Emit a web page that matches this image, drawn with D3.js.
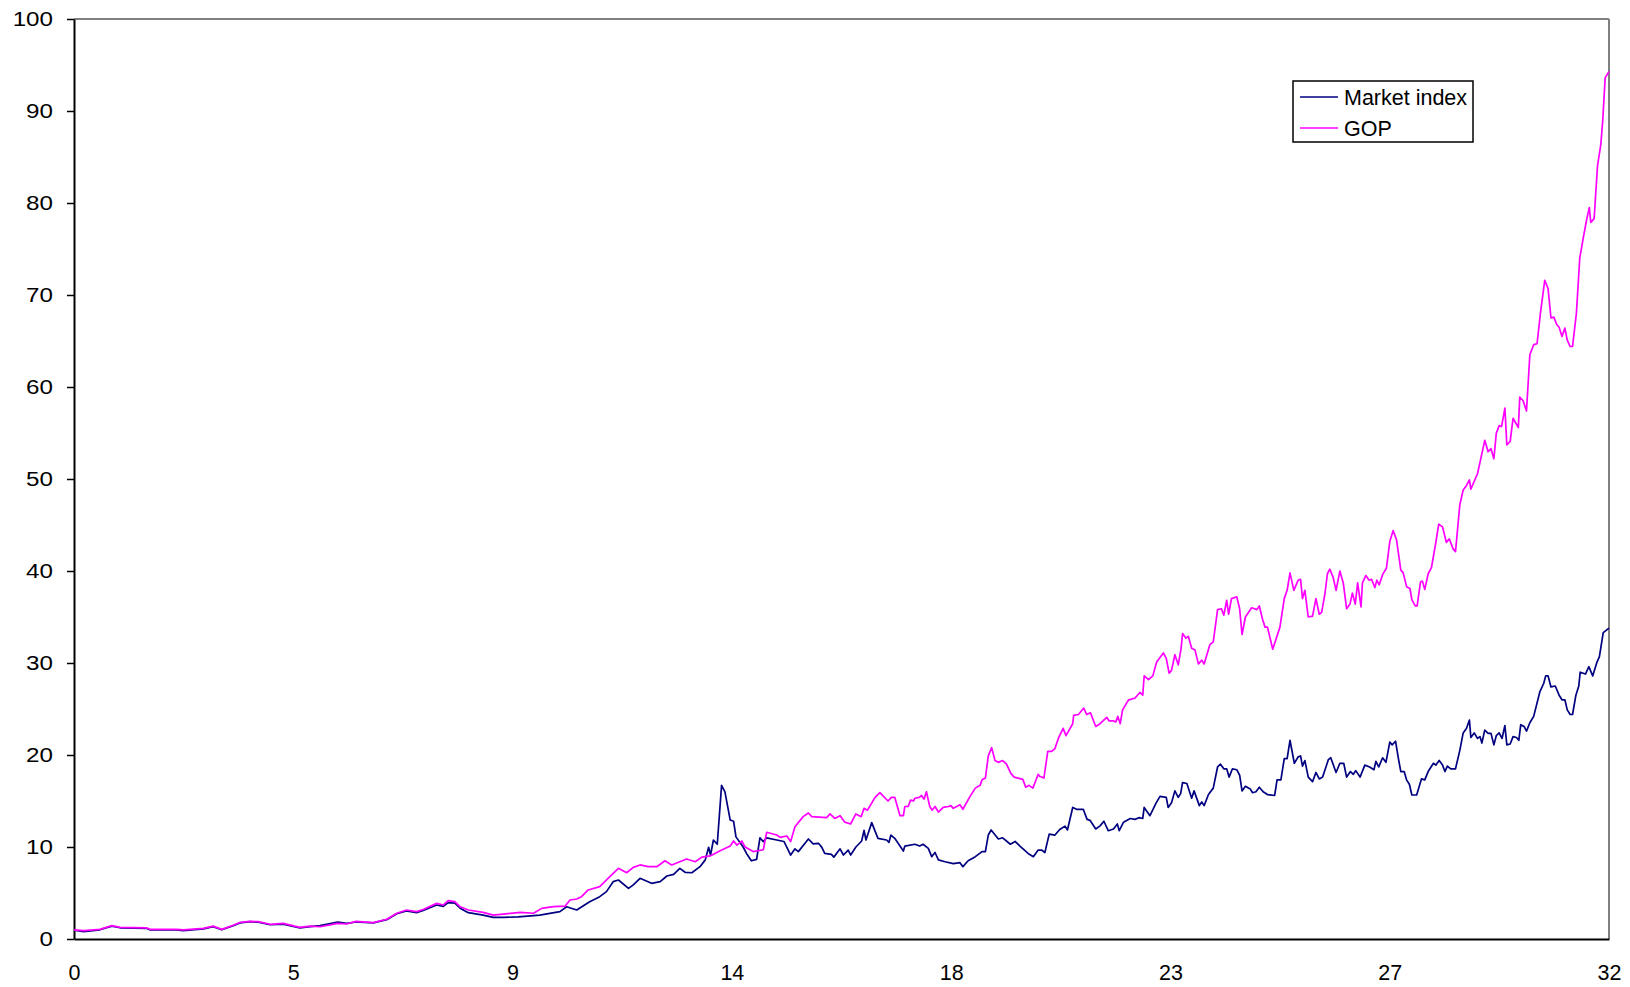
<!DOCTYPE html>
<html>
<head>
<meta charset="utf-8">
<script src="https://cdn.jsdelivr.net/npm/d3@7/dist/d3.min.js"></script>
<style>
  html, body { margin: 0; padding: 0; background: #fff; }
  svg { display: block; font-family: "Liberation Sans", Arial, Helvetica, sans-serif; }
</style>
</head>
<body>
<svg id="chart" width="1630" height="987"></svg>
<script>
// [years, value] pairs for each series
const marketIndex = [
  [0,0.95],[0.2,0.8],[0.54,1.0],[0.79,1.4],[0.96,1.22],[1.52,1.15],[1.58,1.0],[2.14,1.0],[2.28,0.92],[2.7,1.1],
  [2.9,1.35],[3.08,1.0],[3.32,1.45],[3.46,1.75],[3.67,1.88],[3.84,1.82],[4.09,1.55],[4.36,1.62],[4.71,1.2],[4.92,1.35],
  [5.13,1.45],[5.5,1.85],[5.68,1.7],[5.88,1.85],[6.24,1.75],[6.52,2.1],[6.73,2.75],[6.93,3.05],[7.14,2.85],[7.28,3.1],
  [7.56,3.7],[7.7,3.55],[7.8,3.95],[7.94,3.9],[8.05,3.35],[8.22,2.86],[8.53,2.6],[8.74,2.35],[8.95,2.35],[9.26,2.4],
  [9.71,2.6],[10.13,2.97],[10.27,3.51],[10.48,3.15],[10.75,4.05],[10.96,4.6],[11.1,5.15],[11.24,6.23],[11.35,6.41],[11.56,5.5],
  [11.66,5.88],[11.8,6.6],[12.04,6.05],[12.22,6.23],[12.36,6.85],[12.5,7.03],[12.63,7.68],[12.74,7.25],[12.88,7.2],[13.05,7.86],
  [13.16,8.6],[13.23,9.97],[13.27,9.13],[13.33,10.76],[13.41,10.3],[13.5,16.7],[13.57,16.0],[13.68,12.93],[13.75,12.8],[13.8,11.1],
  [13.95,10.0],[14.02,9.3],[14.12,8.5],[14.23,8.65],[14.3,11.0],[14.37,10.58],[14.44,11.0],[14.65,10.76],[14.8,10.6],[14.94,9.13],
  [15.03,9.8],[15.1,9.5],[15.31,10.87],[15.41,10.33],[15.52,10.4],[15.59,9.96],[15.65,9.3],[15.79,9.2],[15.84,8.9],[15.97,9.8],
  [16.04,9.13],[16.14,9.67],[16.19,9.13],[16.3,10.0],[16.42,10.65],[16.47,11.8],[16.51,10.76],[16.63,12.65],[16.76,10.94],[16.94,10.76],
  [16.99,10.5],[17.03,11.3],[17.11,10.94],[17.29,9.56],[17.32,10.1],[17.53,10.3],[17.63,10.1],[17.7,10.3],[17.81,9.85],[17.88,8.95],
  [17.95,9.4],[18.02,8.6],[18.16,8.4],[18.33,8.2],[18.47,8.3],[18.53,7.86],[18.64,8.5],[18.79,8.95],[18.93,9.5],[19.0,9.5],
  [19.06,11.3],[19.12,11.85],[19.27,10.87],[19.36,11.0],[19.52,10.3],[19.62,10.6],[19.72,10.1],[19.89,9.3],[20.0,8.95],[20.1,9.67],
  [20.17,9.67],[20.24,9.4],[20.33,11.4],[20.45,11.3],[20.55,11.9],[20.66,12.27],[20.71,11.85],[20.82,14.3],[20.9,14.1],[21.04,14.1],
  [21.12,13.0],[21.18,12.9],[21.3,11.96],[21.39,12.3],[21.47,12.8],[21.56,11.77],[21.67,11.96],[21.75,12.5],[21.79,11.77],[21.88,12.7],
  [22.02,13.1],[22.12,13.0],[22.21,13.2],[22.28,13.1],[22.31,14.3],[22.43,13.4],[22.56,14.8],[22.64,15.5],[22.77,15.4],[22.81,14.3],
  [22.88,14.8],[22.95,16.1],[23.02,15.4],[23.07,15.8],[23.11,17.0],[23.2,16.9],[23.3,15.3],[23.35,16.1],[23.46,14.5],[23.51,14.9],
  [23.56,14.5],[23.65,15.7],[23.75,16.4],[23.84,18.7],[23.9,19.0],[23.97,18.5],[24.03,18.5],[24.08,17.6],[24.15,18.5],[24.24,18.4],
  [24.3,17.8],[24.35,16.1],[24.42,16.6],[24.52,16.3],[24.57,15.9],[24.64,16.0],[24.71,16.5],[24.79,16.0],[24.88,15.7],[25.03,15.6],
  [25.08,17.3],[25.16,17.3],[25.23,19.6],[25.29,19.6],[25.35,21.6],[25.44,19.1],[25.52,19.8],[25.57,19.9],[25.61,18.8],[25.66,19.4],
  [25.73,17.6],[25.82,17.1],[25.89,18.1],[25.96,17.4],[26.03,17.6],[26.15,19.5],[26.2,19.7],[26.31,18.1],[26.39,19.1],[26.47,19.1],
  [26.53,17.6],[26.61,18.2],[26.67,17.9],[26.72,18.3],[26.81,17.6],[26.91,18.9],[27.01,18.7],[27.1,18.4],[27.14,19.3],[27.2,18.7],
  [27.28,19.7],[27.35,19.2],[27.43,21.4],[27.48,21.1],[27.55,21.5],[27.61,19.6],[27.66,18.2],[27.73,18.2],[27.78,17.3],[27.84,16.8],
  [27.89,15.65],[27.99,15.65],[28.09,17.4],[28.16,17.3],[28.23,18.2],[28.34,19.1],[28.39,18.9],[28.46,19.4],[28.53,18.9],[28.58,18.2],
  [28.63,18.8],[28.7,18.5],[28.8,18.5],[28.89,20.5],[28.96,22.4],[29.03,22.9],[29.09,23.8],[29.12,21.9],[29.19,22.4],[29.26,21.8],
  [29.31,22.0],[29.35,21.3],[29.41,22.7],[29.48,22.35],[29.54,22.35],[29.6,21.1],[29.65,22.1],[29.71,22.4],[29.77,21.8],[29.83,23.2],
  [29.87,21.1],[29.94,21.2],[30.0,22.0],[30.07,21.9],[30.12,21.6],[30.16,23.3],[30.23,23.1],[30.28,22.6],[30.35,23.5],[30.43,24.2],
  [30.56,26.9],[30.64,27.8],[30.68,28.6],[30.73,28.6],[30.79,27.4],[30.88,27.5],[30.96,26.5],[31.02,26.0],[31.08,26.0],[31.13,24.9],
  [31.19,24.4],[31.24,24.4],[31.31,26.5],[31.37,27.5],[31.4,29.0],[31.51,28.8],[31.58,29.6],[31.66,28.6],[31.75,30.1],[31.8,30.7],
  [31.88,33.3],[32.0,33.8]
];

const gop = [
  [0,1.0],[0.2,0.9],[0.54,1.05],[0.79,1.45],[0.96,1.26],[1.52,1.2],[1.58,1.05],[2.14,1.05],[2.28,1.0],[2.7,1.15],
  [2.9,1.4],[3.08,1.05],[3.32,1.5],[3.46,1.8],[3.67,1.92],[3.84,1.88],[4.09,1.6],[4.36,1.7],[4.71,1.26],[4.92,1.4],
  [5.13,1.33],[5.5,1.7],[5.68,1.63],[5.88,1.92],[6.24,1.78],[6.52,2.15],[6.73,2.8],[6.93,3.15],[7.14,2.97],[7.28,3.2],
  [7.56,3.87],[7.7,3.7],[7.8,4.17],[7.94,4.06],[8.05,3.5],[8.22,3.15],[8.53,2.9],[8.74,2.6],[8.95,2.7],[9.3,2.9],
  [9.58,2.8],[9.75,3.33],[9.99,3.51],[10.24,3.58],[10.34,4.24],[10.48,4.35],[10.58,4.6],[10.72,5.33],[10.96,5.7],[11.17,6.78],
  [11.35,7.68],[11.52,7.2],[11.66,7.79],[11.8,8.05],[11.97,7.86],[12.15,7.86],[12.32,8.5],[12.46,8.05],[12.63,8.4],[12.77,8.7],
  [12.95,8.4],[13.09,8.9],[13.26,9.03],[13.47,9.6],[13.68,10.1],[13.75,10.65],[13.82,10.2],[13.92,10.65],[13.99,10.0],[14.16,9.5],
  [14.37,9.7],[14.44,11.6],[14.65,11.3],[14.72,11.05],[14.86,11.2],[14.94,10.6],[15.03,12.2],[15.2,13.3],[15.31,13.7],[15.38,13.3],
  [15.69,13.2],[15.76,13.6],[15.86,13.1],[15.97,13.4],[16.07,12.7],[16.19,12.5],[16.3,13.6],[16.41,13.3],[16.47,14.2],[16.54,14.0],
  [16.7,15.4],[16.8,15.9],[16.97,15.0],[17.04,15.4],[17.11,15.4],[17.22,13.4],[17.29,13.4],[17.32,14.4],[17.39,14.4],[17.44,15.1],
  [17.5,15.0],[17.53,15.3],[17.62,15.4],[17.67,15.6],[17.72,15.2],[17.77,16.0],[17.84,14.4],[17.89,14.0],[17.95,14.4],[18.02,13.8],
  [18.12,14.3],[18.23,14.4],[18.28,14.5],[18.33,14.2],[18.47,14.6],[18.53,14.1],[18.68,15.5],[18.79,16.4],[18.89,16.7],[18.93,17.3],
  [19.0,17.5],[19.06,19.9],[19.13,20.8],[19.2,19.4],[19.27,19.2],[19.36,19.4],[19.44,19.0],[19.53,18.0],[19.6,17.6],[19.78,17.35],
  [19.84,16.5],[19.91,16.7],[19.99,16.4],[20.1,17.9],[20.13,17.7],[20.22,17.5],[20.3,20.4],[20.38,20.4],[20.45,20.7],[20.52,21.8],
  [20.62,22.9],[20.68,22.1],[20.82,23.4],[20.84,24.3],[20.94,24.4],[21.05,25.1],[21.11,24.4],[21.19,24.6],[21.3,23.1],[21.39,23.4],
  [21.53,24.1],[21.58,23.7],[21.67,23.7],[21.72,23.6],[21.76,24.2],[21.81,23.4],[21.86,24.9],[21.98,25.97],[22.12,26.2],[22.22,26.8],
  [22.28,26.5],[22.31,28.6],[22.4,28.2],[22.49,28.6],[22.57,30.1],[22.71,31.1],[22.77,30.5],[22.83,28.9],[22.88,29.2],[22.95,30.9],
  [23.02,29.8],[23.08,31.6],[23.11,33.2],[23.18,32.7],[23.23,32.9],[23.3,31.6],[23.37,31.4],[23.44,29.9],[23.51,30.3],[23.56,29.9],
  [23.68,32.0],[23.75,32.3],[23.84,35.8],[23.92,35.9],[23.97,35.2],[24.03,36.8],[24.07,35.3],[24.13,37.0],[24.24,37.2],[24.3,35.9],
  [24.35,33.1],[24.42,35.0],[24.55,36.0],[24.66,35.8],[24.71,36.2],[24.78,34.7],[24.83,33.9],[24.88,33.9],[24.99,31.5],[25.14,33.9],
  [25.23,37.0],[25.29,37.9],[25.35,39.8],[25.43,37.9],[25.52,39.0],[25.57,39.1],[25.61,37.0],[25.66,37.9],[25.73,35.0],[25.82,35.1],
  [25.89,37.0],[25.96,35.3],[26.01,35.5],[26.08,37.6],[26.13,39.7],[26.18,40.2],[26.25,39.3],[26.31,37.9],[26.39,40.0],[26.46,38.7],
  [26.53,35.9],[26.6,36.4],[26.65,37.6],[26.71,36.4],[26.76,38.7],[26.83,36.1],[26.86,38.7],[26.93,39.5],[27.0,39.0],[27.05,39.1],
  [27.12,38.2],[27.16,39.0],[27.21,38.5],[27.28,39.6],[27.36,40.3],[27.43,43.2],[27.5,44.4],[27.57,43.4],[27.66,40.1],[27.71,39.8],
  [27.78,38.3],[27.85,38.1],[27.89,36.9],[27.96,36.2],[28.0,36.2],[28.07,38.8],[28.11,38.9],[28.16,38.0],[28.23,39.7],[28.3,40.4],
  [28.39,43.1],[28.45,45.1],[28.53,44.8],[28.61,43.1],[28.67,43.5],[28.75,42.4],[28.8,42.1],[28.89,47.2],[28.96,48.8],[29.03,49.3],
  [29.09,49.9],[29.12,48.9],[29.26,50.6],[29.41,54.2],[29.48,52.97],[29.54,53.3],[29.6,52.2],[29.65,54.96],[29.71,55.8],[29.76,55.7],
  [29.83,57.7],[29.87,53.7],[29.94,54.1],[30.0,56.6],[30.11,55.6],[30.14,58.9],[30.21,58.5],[30.28,57.4],[30.35,63.5],[30.43,64.6],
  [30.5,64.7],[30.57,68.0],[30.66,71.6],[30.73,70.7],[30.79,67.5],[30.85,67.6],[30.91,66.8],[30.96,66.5],[31.02,65.5],[31.08,66.4],
  [31.13,65.1],[31.19,64.4],[31.24,64.4],[31.32,68.0],[31.39,74.0],[31.46,76.1],[31.53,78.1],[31.59,79.5],[31.62,77.9],[31.69,78.3],
  [31.76,84.0],[31.83,86.4],[31.87,89.0],[31.92,93.6],[32.0,94.3]
];

const yTicks = [0, 10, 20, 30, 40, 50, 60, 70, 80, 90, 100];
const xTickLabels = ["0", "5", "9", "14", "18", "23", "27", "32"];
const seriesNames = ["Market index", "GOP"];
const seriesColors = ["#000080", "#ff00ff"];

const W = 1630, H = 987;
const margin = { top: 19, right: 21, bottom: 48, left: 74 };
const innerW = W - margin.left - margin.right;
const innerH = H - margin.top - margin.bottom;

const svg = d3.select("#chart");
const g = svg.append("g").attr("transform", `translate(${margin.left},${margin.top})`);

const x = d3.scaleLinear().domain([0, 32]).range([0, innerW]);
const y = d3.scaleLinear().domain([0, 100]).range([innerH, 0]);

// frame: grey top and right edges
g.append("line").attr("x1", 0).attr("x2", innerW).attr("y1", 0).attr("y2", 0)
  .attr("stroke", "#808080").attr("stroke-width", 2);
g.append("line").attr("x1", innerW).attr("x2", innerW).attr("y1", 0).attr("y2", innerH)
  .attr("stroke", "#808080").attr("stroke-width", 2);

// y axis; labels use a slightly widened face
const yAxis = d3.axisLeft(y).tickValues(yTicks).tickSize(7).tickPadding(14).tickSizeOuter(0);
const yg = g.append("g").call(yAxis);
yg.select(".domain").attr("stroke", "#000").attr("stroke-width", 2);
yg.selectAll(".tick line").attr("stroke", "#000").attr("stroke-width", 1.5);
yg.selectAll(".tick text")
  .attr("x", 0)
  .attr("transform", "translate(-21,0) scale(1.18,1)")
  .attr("font-size", 20.5).attr("fill", "#000")
  .attr("font-family", "'Liberation Sans', Arial, sans-serif");

// x axis: evenly spaced labels across 0..32
const xTickVals = xTickLabels.map((d, i) => i * 32 / (xTickLabels.length - 1));
const xAxis = d3.axisBottom(x).tickValues(xTickVals).tickSize(0).tickPadding(26)
  .tickFormat((d, i) => xTickLabels[i]).tickSizeOuter(0);
const xg = g.append("g").attr("transform", `translate(0,${innerH})`).call(xAxis);
xg.select(".domain").attr("stroke", "#000").attr("stroke-width", 2);
xg.selectAll(".tick text")
  .attr("font-size", 21.5).attr("fill", "#000")
  .attr("font-family", "'Liberation Sans', Arial, sans-serif");

// series lines
const line = d3.line().x(d => x(d[0])).y(d => y(d[1]));
[marketIndex, gop].forEach((data, i) => {
  g.append("path").datum(data)
    .attr("fill", "none")
    .attr("stroke", seriesColors[i])
    .attr("stroke-width", 1.7)
    .attr("stroke-linejoin", "round")
    .attr("d", line);
});

// legend
const lg = svg.append("g").attr("transform", "translate(1293,81)");
lg.append("rect").attr("width", 180).attr("height", 61)
  .attr("fill", "#fff").attr("stroke", "#000").attr("stroke-width", 1.5);
seriesNames.forEach((name, i) => {
  const cy = 16 + i * 31;
  lg.append("line").attr("x1", 7).attr("x2", 45).attr("y1", cy).attr("y2", cy)
    .attr("stroke", seriesColors[i]).attr("stroke-width", 1.7);
  lg.append("text").attr("x", 51).attr("y", cy + 7.5)
    .attr("font-size", 21.5).attr("fill", "#000").text(name);
});
</script>
</body>
</html>
